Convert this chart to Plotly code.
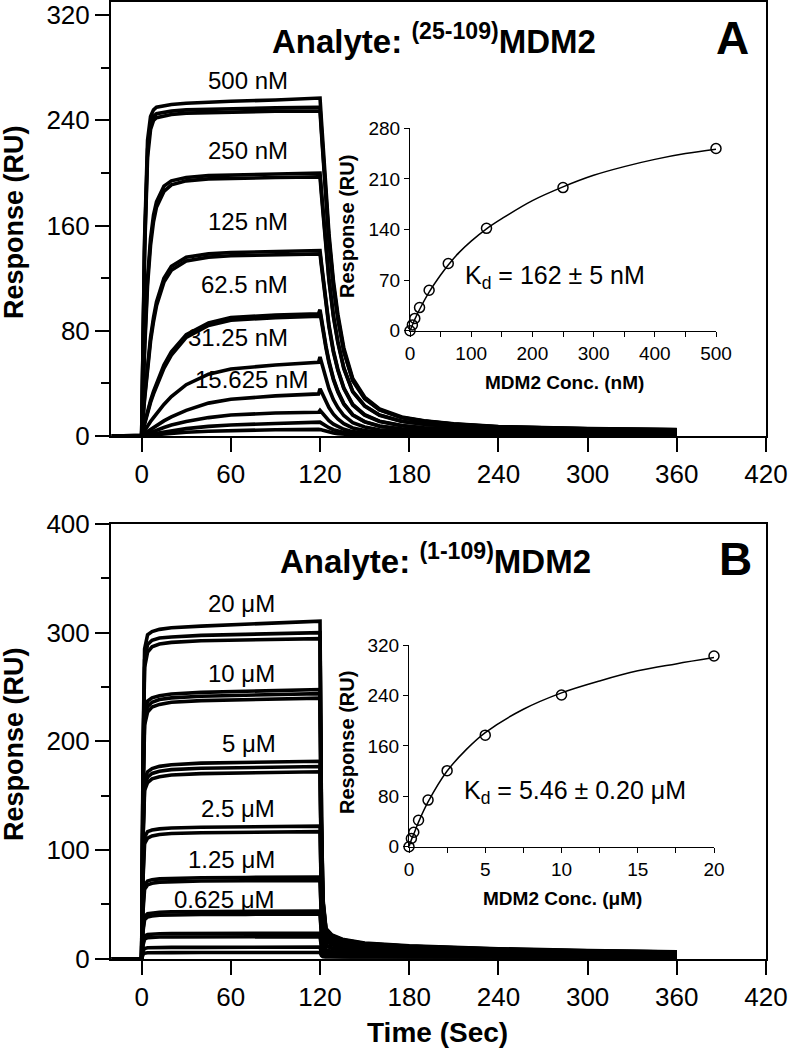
import plotly.graph_objects as go

W, H = 789, 1050
FONT = "Liberation Sans, Arial, sans-serif"

# ---------------- Panel A: sensorgrams, analyte (25-109)MDM2 ----------------
T_A = [-20, 0, 2, 4, 6, 8, 10, 15, 20, 30, 45, 60, 90, 119,
       120, 121, 122, 124, 126, 129, 132, 136, 142, 150, 160, 175, 190, 210, 240, 300, 360]

A_500_1 = [0, 0, 150, 225, 243, 248, 250, 251, 252, 253, 254, 254.5, 255.5, 257,
           257, 239, 221, 185, 154, 118, 92.5, 67, 43.7, 29.6, 20.6, 14.4, 11.6, 9.3, 7.2, 5.7, 4.9]
A_500_2 = [0, 0, 145, 218, 237, 243, 245, 246, 247, 248, 248.5, 249, 249.5, 250,
           250, 232.5, 215, 180, 150, 115, 90, 65, 42.5, 28.8, 20, 14, 11.3, 9, 7, 5.5, 4.8]
A_500_3 = [0, 0, 140, 212, 233, 240, 242, 243.5, 244.5, 245.5, 246, 246.5, 247, 247,
           247, 229.7, 212.4, 177.8, 148.2, 113.6, 88.9, 64.2, 42, 28.4, 19.8, 13.8, 11.1, 8.9, 6.9, 5.4, 4.7]
A_250_1 = [0, 0, 70, 120, 150, 168, 178, 190, 194, 196.5, 198, 198.5, 199.5, 200,
           200, 186, 172, 144, 120, 92, 72, 52, 34, 23, 16, 11.2, 9, 7.2, 5.6, 4.4, 3.8]
A_250_2 = [0, 0, 65, 115, 145, 163, 174, 186, 191, 194, 195.5, 196, 196.5, 197,
           197, 183, 169.4, 141.8, 118.2, 90.6, 70.9, 51.2, 33.5, 22.7, 15.8, 11, 8.9, 7.1, 5.5, 4.3, 3.7]
A_125_1 = [0, 0, 30, 55, 75, 90, 102, 120, 129, 136, 138.5, 139.5, 140.5, 141,
           141, 131, 121, 101.5, 84.6, 64.9, 50.8, 36.7, 24, 16.2, 11.3, 7.9, 6.3, 5.1, 3.9, 3.1, 2.7]
A_125_2 = [0, 0, 28, 52, 72, 87, 99, 117, 126, 133, 136, 137, 138, 138.5,
           138.5, 128.8, 119.1, 99.7, 83.1, 63.7, 49.9, 36, 23.5, 15.9, 11.1, 7.8, 6.2, 5, 3.9, 3, 2.6]
A_62_1 = [0, 0, 10, 19, 27, 34, 40, 54, 64, 77, 86, 90, 92, 93,
          96, 88.4, 81.7, 68.4, 57, 43.7, 34.2, 24.7, 16.2, 10.9, 7.6, 5.3, 4.3, 3.4, 2.7, 2.1, 1.8]
A_62_2 = [0, 0, 9, 18, 25.5, 32, 38, 51.5, 61.5, 75, 84, 88, 90, 91,
          94, 86.5, 80, 67, 55.8, 42.8, 33.5, 24.2, 15.8, 10.7, 7.4, 5.2, 4.2, 3.3, 2.6, 2, 1.7]
A_31 = [0, 0, 4, 8, 11, 14, 17, 24, 30, 39, 47, 51, 54, 56,
        60, 55.8, 51.6, 43.2, 36, 27.6, 21.6, 15.6, 10.2, 6.9, 4.8, 3.4, 2.7, 2.2, 1.7, 1.3, 1.1]
A_15 = [0, 0, 2, 3.5, 5, 6.5, 8, 11.5, 14.5, 19.5, 25, 28, 30.5, 32,
        36, 33.5, 31, 25.9, 21.6, 16.6, 13, 9.4, 6.1, 4.1, 2.9, 2, 1.6, 1.3, 1, 0.8, 0.7]
A_7 = [0, 0, 0.9, 1.8, 2.7, 3.6, 4.5, 6.5, 8.3, 11, 14, 16, 17.5, 18,
       19.5, 18.1, 16.8, 14, 11.7, 9, 7, 5.1, 3.3, 2.2, 1.6, 1.1, 0.9, 0.7, 0.5, 0.4, 0.35]
A_3 = [0, 0, 0.5, 1, 1.4, 1.8, 2.2, 3.2, 4, 5.6, 7.3, 8.4, 9.5, 10,
       10.5, 9.8, 9, 7.6, 6.3, 4.8, 3.8, 2.7, 1.8, 1.2, 0.8, 0.6, 0.5, 0.4, 0.3, 0.2, 0.2]
A_1 = [0, 0, 0.25, 0.5, 0.7, 0.9, 1.1, 1.6, 2, 2.8, 3.6, 4.2, 4.8, 5,
       5, 4.7, 4.3, 3.6, 3, 2.3, 1.8, 1.3, 0.9, 0.6, 0.4, 0.3, 0.2, 0.2, 0.1, 0.1, 0.1]

LABELS_A = ["500 nM", "250 nM", "125 nM", "62.5 nM", "31.25 nM", "15.625 nM"]
LABEL_A_Y = [270.6, 217, 163, 115, 75, 42.6]
LABEL_A_X = [100, 100, 100, 100, 100, 113]

# ---------------- Panel B: sensorgrams, analyte (1-109)MDM2 ----------------
T_B = [-20, 0, 1, 2, 4, 7, 12, 20, 40, 70, 100, 120,
       121, 122, 124, 128, 135, 150, 180, 240, 300, 360]

B_20_1 = [0, 0, 200, 285, 298, 301, 303, 304.5, 306, 308, 309.5, 310.6, 130, 55, 28, 22, 18, 14.5, 12, 9.3, 7.5, 6.5]
B_20_2 = [0, 0, 190, 275, 289, 293, 295, 296, 297.5, 298.5, 299.5, 300, 126, 53, 27, 21.3, 17.5, 14, 11.6, 9, 7.3, 6.3]
B_20_3 = [0, 0, 185, 268, 282, 287, 289.5, 291, 292.5, 293.5, 294, 294.5, 123, 52, 26.6, 20.9, 17.1, 13.8, 11.4, 8.8, 7.1, 6.2]
B_10_1 = [0, 0, 160, 228, 237, 240, 242, 243.5, 245, 246, 247, 247.7, 105, 46, 24.6, 19.4, 15.8, 12.8, 10.6, 8.2, 6.6, 5.7]
B_10_2 = [0, 0, 155, 222, 232, 236, 238.5, 240, 241.5, 242.5, 243.3, 243.9, 103, 45, 24, 19, 15.5, 12.5, 10.3, 8, 6.5, 5.6]
B_10_3 = [0, 0, 150, 215, 227, 231.5, 234, 236, 237.5, 238.5, 239.2, 239.7, 100, 44, 23.5, 18.5, 15.1, 12.2, 10.1, 7.8, 6.3, 5.5]
B_5_1 = [0, 0, 120, 165, 172, 175, 177, 178.5, 180, 180.8, 181.3, 181.7, 78, 36, 21, 16.5, 13.5, 10.9, 9, 7, 5.6, 4.9]
B_5_2 = [0, 0, 115, 160, 167, 170.5, 172.5, 174, 175.2, 176, 176.5, 176.8, 76, 35, 20.4, 16, 13.1, 10.6, 8.8, 6.8, 5.5, 4.7]
B_5_3 = [0, 0, 110, 155, 162, 165.5, 167.5, 169, 170.3, 171.2, 171.7, 172, 74, 34, 19.9, 15.6, 12.8, 10.3, 8.5, 6.6, 5.3, 4.6]
B_2_1 = [0, 0, 80, 112, 117, 118.5, 119.5, 120.3, 121, 121.5, 121.8, 122, 55, 26, 16.8, 13.2, 10.8, 8.7, 7.2, 5.6, 4.5, 3.9]
B_2_2 = [0, 0, 75, 106, 111, 113, 114.3, 115.2, 116, 116.5, 116.8, 117, 53, 25, 16.2, 12.8, 10.4, 8.4, 7, 5.4, 4.4, 3.8]
B_1_1 = [0, 0, 50, 68, 71.5, 72.8, 73.5, 74, 74.5, 74.8, 75, 75.2, 36, 18, 12.6, 9.9, 8.1, 6.5, 5.4, 4.2, 3.4, 2.9]
B_1_2 = [0, 0, 45, 64, 68, 69.5, 70.5, 71, 71.5, 71.8, 72, 72, 34, 17, 12, 9.5, 7.7, 6.2, 5.2, 4, 3.2, 2.8]
B_06_1 = [0, 0, 28, 39, 41.5, 42.3, 42.8, 43.2, 43.5, 43.7, 43.8, 44, 22, 11.5, 8.4, 6.6, 5.4, 4.4, 3.6, 2.8, 2.3, 2]
B_06_2 = [0, 0, 26, 36, 38.5, 39.4, 40, 40.4, 40.7, 40.9, 41, 41.3, 20.5, 10.8, 7.8, 6.2, 5, 4.1, 3.4, 2.6, 2.1, 1.8]
B_03_1 = [0, 0, 15, 21, 22.4, 22.8, 23, 23.2, 23.3, 23.4, 23.5, 23.5, 12, 6.8, 5, 4, 3.2, 2.6, 2.2, 1.7, 1.4, 1.2]
B_03_2 = [0, 0, 13, 18, 19.4, 19.8, 20, 20.1, 20.2, 20.3, 20.3, 20.3, 10.5, 6, 4.5, 3.5, 2.9, 2.3, 1.9, 1.5, 1.2, 1]
B_015 = [0, 0, 7, 9.5, 10.1, 10.3, 10.4, 10.5, 10.5, 10.6, 10.6, 10.7, 5.5, 3.4, 2.5, 2, 1.6, 1.3, 1.1, 0.8, 0.7, 0.6]
B_008 = [0, 0, 4, 5.2, 5.5, 5.6, 5.7, 5.7, 5.8, 5.8, 5.8, 5.8, 3, 1.9, 1.4, 1.1, 0.9, 0.7, 0.6, 0.5, 0.4, 0.3]

LABELS_B = ["20 μM", "10 μM", "5 μM", "2.5 μM", "1.25 μM", "0.625 μM"]
LABEL_B_Y = [326.8, 262, 197.7, 138, 91.3, 54.2]
LABEL_B_X = [91, 91, 92, 91, 91, 91]

# ---------------- Insets: equilibrium response vs concentration ----------------
CONC_A = [0, 3.9, 7.8, 15.6, 31.25, 62.5, 125, 250, 500]
RESP_A = [0, 8, 17, 32, 56, 93, 141.6, 198, 252]
FIT_A_X = [0, 4, 8, 16, 31, 50, 62.5, 80, 100, 125, 150, 200, 250, 300, 350, 400, 450, 500]
FIT_A_Y = [0, 8, 16, 30, 53, 77, 91, 108, 124, 141, 155, 180, 199, 215, 227, 237, 245, 251]

CONC_B = [0, 0.156, 0.3125, 0.625, 1.25, 2.5, 5, 10, 20]
RESP_B = [0, 13, 23, 42, 74, 120.6, 177, 240.7, 302.5]
FIT_B_X = [0, 0.156, 0.3125, 0.625, 1.25, 2.5, 3.75, 5, 7.5, 10, 12.5, 15, 17.5, 20]
FIT_B_Y = [0, 11, 20, 39, 71, 120, 154, 181, 218, 244, 263, 279, 290, 300]

CURVES_A = [A_500_1, A_500_2, A_500_3, A_250_1, A_250_2, A_125_1, A_125_2,
            A_62_1, A_62_2, A_31, A_15, A_7, A_3, A_1]
CURVES_B = [B_20_1, B_20_2, B_20_3, B_10_1, B_10_2, B_10_3, B_5_1, B_5_2, B_5_3,
            B_2_1, B_2_2, B_1_1, B_1_2, B_06_1, B_06_2, B_03_1, B_03_2, B_015, B_008]


def fx(p):
    return p / W


def fy(p):
    return 1 - p / H


fig = go.Figure()

for c in CURVES_A:
    fig.add_trace(go.Scatter(x=T_A, y=c, mode="lines", xaxis="x", yaxis="y",
                             line=dict(color="black", width=3.6), hoverinfo="skip"))
for c in CURVES_B:
    fig.add_trace(go.Scatter(x=T_B, y=c, mode="lines", xaxis="x2", yaxis="y2",
                             line=dict(color="black", width=3.6), hoverinfo="skip"))

fig.add_trace(go.Scatter(x=FIT_A_X, y=FIT_A_Y, mode="lines", xaxis="x3", yaxis="y3",
                         line=dict(color="black", width=1.5, shape="spline"), cliponaxis=False))
fig.add_trace(go.Scatter(x=CONC_A, y=RESP_A, mode="markers", xaxis="x3", yaxis="y3",
                         marker=dict(symbol="circle-open", size=10, color="black",
                                     line=dict(width=1.5, color="black")), cliponaxis=False))
fig.add_trace(go.Scatter(x=FIT_B_X, y=FIT_B_Y, mode="lines", xaxis="x4", yaxis="y4",
                         line=dict(color="black", width=1.5, shape="spline"), cliponaxis=False))
fig.add_trace(go.Scatter(x=CONC_B, y=RESP_B, mode="markers", xaxis="x4", yaxis="y4",
                         marker=dict(symbol="circle-open", size=10, color="black",
                                     line=dict(width=1.5, color="black")), cliponaxis=False))

main_x = dict(range=[-20.6, 420], tickmode="linear", tick0=0, dtick=60,
              ticks="outside", ticklen=14, tickwidth=2, tickcolor="black",
              showline=True, linewidth=2, linecolor="black", mirror=True,
              showgrid=False, zeroline=False, automargin=False,
              tickfont=dict(family=FONT, size=26, color="black"))


def main_y(rng, dtick, minor_dtick):
    return dict(range=rng, tickmode="linear", tick0=0, dtick=dtick,
                ticks="outside", ticklen=14, tickwidth=2, tickcolor="black",
                minor=dict(ticks="outside", ticklen=8, tickwidth=2, tickcolor="black",
                           tick0=0, dtick=minor_dtick, showgrid=False),
                showline=True, linewidth=2, linecolor="black", mirror=True,
                showgrid=False, zeroline=False, automargin=False,
                tickfont=dict(family=FONT, size=26, color="black"))


def inset_axis(rng, dtick, minor_dtick=None):
    d = dict(range=rng, tickmode="linear", tick0=0, dtick=dtick,
             ticks="outside", ticklen=5, tickwidth=1.2, tickcolor="black",
             showline=True, linewidth=1.2, linecolor="black",
             showgrid=False, zeroline=False, automargin=False,
             tickfont=dict(family=FONT, size=19, color="black"))
    if minor_dtick:
        d["minor"] = dict(ticks="outside", ticklen=5, tickwidth=1.2, tickcolor="black",
                          tick0=0, dtick=minor_dtick, showgrid=False)
    return d


XD = [fx(111), fx(766)]
layout = dict(
    width=W, height=H, margin=dict(l=0, r=0, t=0, b=0, autoexpand=False),
    paper_bgcolor="white", plot_bgcolor="rgba(0,0,0,0)", showlegend=False,
    hovermode=False,
    xaxis=dict(main_x, domain=XD, anchor="y"),
    yaxis=dict(main_y([0, 330], 80, 40), domain=[fy(436), fy(2)], anchor="x"),
    xaxis2=dict(main_x, domain=XD, anchor="y2"),
    yaxis2=dict(main_y([0, 400], 100, 50), domain=[fy(958.8), fy(523.9)], anchor="x2"),
    xaxis3=dict(inset_axis([0, 500], 100, 50), domain=[fx(410), fx(716)], anchor="y3"),
    yaxis3=dict(inset_axis([0, 280], 70), domain=[fy(330.7), fy(128.3)], anchor="x3"),
    xaxis4=dict(inset_axis([0, 20], 5, 2.5), domain=[fx(409), fx(714)], anchor="y4"),
    yaxis4=dict(inset_axis([0, 320], 80), domain=[fy(846.7), fy(645)], anchor="x4"),
)
fig.update_layout(**layout)

ann = []


def paper_text(text, x, y, size, xanchor="center", angle=0):
    ann.append(dict(text=text, x=fx(x), y=fy(y), xref="paper", yref="paper",
                    xanchor=xanchor, yanchor="middle", showarrow=False, textangle=angle,
                    font=dict(family=FONT, size=size, color="black")))


for lab, xv, yv in zip(LABELS_A, LABEL_A_X, LABEL_A_Y):
    ann.append(dict(text=lab, x=xv, y=yv, xref="x", yref="y", xanchor="right",
                    yanchor="middle", showarrow=False,
                    font=dict(family=FONT, size=24, color="black")))
for lab, xv, yv in zip(LABELS_B, LABEL_B_X, LABEL_B_Y):
    ann.append(dict(text=lab, x=xv, y=yv, xref="x2", yref="y2", xanchor="right",
                    yanchor="middle", showarrow=False,
                    font=dict(family=FONT, size=24, color="black")))

paper_text("<b>Analyte: <sup>(25-109)</sup>MDM2</b>", 270, 39, 33, xanchor="left")
paper_text("<b>A</b>", 732, 38, 46)
paper_text("<b>Analyte: <sup>(1-109)</sup>MDM2</b>", 278, 559, 33, xanchor="left")
paper_text("<b>B</b>", 735, 559, 46)

paper_text("<b>Response (RU)</b>", 14, 222, 27, angle=-90)
paper_text("<b>Response (RU)</b>", 14, 744, 27, angle=-90)
paper_text("<b>Time (Sec)</b>", 437, 1032, 28)

paper_text("K<sub>d</sub> = 162 ± 5 nM", 463, 277, 25, xanchor="left")
paper_text("K<sub>d</sub> = 5.46 ± 0.20 μM", 462, 792, 25, xanchor="left")

paper_text("<b>MDM2 Conc. (nM)</b>", 564, 382, 19)
paper_text("<b>Response (RU)</b>", 347, 227, 20, angle=-90)
paper_text("<b>MDM2 Conc. (μM)</b>", 562, 898, 19)
paper_text("<b>Response (RU)</b>", 347, 743, 20, angle=-90)

fig.update_layout(annotations=ann)
fig.write_html("out.html", config={"displayModeBar": False},
               post_script="document.body.style.margin='0px';document.body.style.padding='0px';")
